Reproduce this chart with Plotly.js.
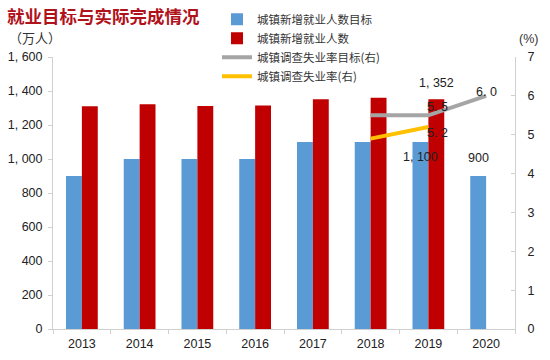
<!DOCTYPE html>
<html><head><meta charset="utf-8">
<script src="https://cdn.plot.ly/plotly-3.0.1.min.js"></script>
<style>body{margin:0;background:#fff}#c{width:550px;height:360px}</style>
</head><body><div id="c"></div>
<script>
const years = ['2013','2014','2015','2016','2017','2018','2019','2020'];
const jobTarget = [900,1000,1000,1000,1100,1100,1100,900];
const jobActual = [1310,1322,1312,1314,1351,1361,1352,null];
const unempTargetYears = ['2018','2019','2020'];
const unempTarget = [5.5,5.5,6.0];
const unempYears = ['2018','2019'];
const unemp = [4.9,5.2];
const leftTicks = [0,200,400,600,800,1000,1200,1400,1600];
const leftTickText = ['0','200','400','600','800','1, 000','1, 200','1, 400','1, 600'];
const rightTicks = [0,1,2,3,4,5,6,7];
const names = ['城镇新增就业人数目标','城镇新增就业人数','城镇调查失业率目标(右)','城镇调查失业率(右)'];

const tf = {family:'Liberation Sans, Arial, sans-serif', size:12.5, color:'#222'};
const traces = [
 {type:'bar', x:years, y:jobTarget, name:names[0], marker:{color:'#5b9bd5'}, hoverinfo:'none'},
 {type:'bar', x:years, y:jobActual, name:names[1], marker:{color:'#c00000'}, hoverinfo:'none'},
 {type:'scatter', mode:'lines', x:unempTargetYears, y:unempTarget, name:names[2], yaxis:'y2', line:{color:'#a5a5a5', width:4}, hoverinfo:'none'},
 {type:'scatter', mode:'lines', x:unempYears, y:unemp, name:names[3], yaxis:'y2', line:{color:'#ffc000', width:4}, hoverinfo:'none'}
];
const fmt = v => v >= 1000 ? Math.floor(v/1000)+', '+String(v%1000).padStart(3,'0') : String(v);
const ci = y => years.indexOf(y);
const annotations = [
 {text:'就业目标与实际完成情况', xref:'paper', yref:'paper', x:-0.104, y:1.152, xanchor:'left', yanchor:'middle', showarrow:false, font:{family:'Noto Sans CJK SC', size:17.5, color:'#b0121b', weight:'bold'}},
 {text:'（万人）', xref:'paper', yref:'paper', x:-0.1, y:1.072, xanchor:'left', yanchor:'middle', showarrow:false, font:{family:'Noto Sans CJK SC', size:13, color:'#333'}},
 {text:'(%)', xref:'paper', yref:'paper', x:1.005, y:1.065, xanchor:'left', yanchor:'middle', showarrow:false, font:{family:'Liberation Sans', size:12.5, color:'#333'}},
 {text:fmt(jobActual[6]), x:6, y:jobActual[6], xref:'x', yref:'y', xshift:8, yshift:16, showarrow:false, font:tf},
 {text:fmt(jobTarget[6]), x:6, y:jobTarget[6], xref:'x', yref:'y', xshift:-8, yshift:-15, showarrow:false, font:tf},
 {text:fmt(jobTarget[7]), x:7, y:jobTarget[7], xref:'x', yref:'y', xshift:-8, yshift:18, showarrow:false, font:tf},
 {text:unempTarget[2].toFixed(1).replace('.', '. '), x:ci(unempTargetYears[2]), y:unempTarget[2], xref:'x', yref:'y2', yshift:4, showarrow:false, font:tf},
 {text:unempTarget[1].toFixed(1).replace('.', '. '), x:ci(unempTargetYears[1]), y:unempTarget[1], xref:'x', yref:'y2', xshift:9, yshift:8, showarrow:false, font:tf},
 {text:unemp[1].toFixed(1).replace('.', '. '), x:ci(unempYears[1]), y:unemp[1], xref:'x', yref:'y2', xshift:9, yshift:-6, showarrow:false, font:tf}
];
const layout = {
 width:550, height:360,
 margin:{l:53, r:35, t:57, b:31, autoexpand:false},
 paper_bgcolor:'#fff', plot_bgcolor:'#fff',
 barmode:'group', bargap:0.45, bargroupgap:0,
 showlegend:true,
 legend:{x:0.355, y:1.192, xanchor:'left', yanchor:'top', bgcolor:'rgba(0,0,0,0)', font:{family:'Noto Sans CJK SC', size:11.5, color:'#333'}, tracegroupgap:0, itemwidth:30, traceorder:'normal'},
 xaxis:{type:'category', categoryarray:years, categoryorder:'array', range:[-0.5, years.length-0.5], showline:true, linecolor:'#d0d0d0', ticks:'outside', tickson:'boundaries', ticklen:4, tickcolor:'#d0d0d0', tickfont:tf, ticklabelstandoff:3, showgrid:false, zeroline:false},
 yaxis:{range:[0,1600], tickvals:leftTicks, ticktext:leftTickText, showline:true, linecolor:'#d0d0d0', ticks:'outside', ticklen:4, tickcolor:'#d0d0d0', tickfont:tf, ticklabelstandoff:3, showgrid:false, zeroline:false},
 yaxis2:{range:[0,7], tickvals:rightTicks, overlaying:'y', side:'right', showline:true, linecolor:'#d0d0d0', ticks:'inside', ticklen:4, tickcolor:'#d0d0d0', tickfont:tf, ticklabelstandoff:9, showgrid:false, zeroline:false},
 annotations:annotations
};
Plotly.newPlot('c', traces, layout, {displayModeBar:false, staticPlot:true});
</script></body></html>
